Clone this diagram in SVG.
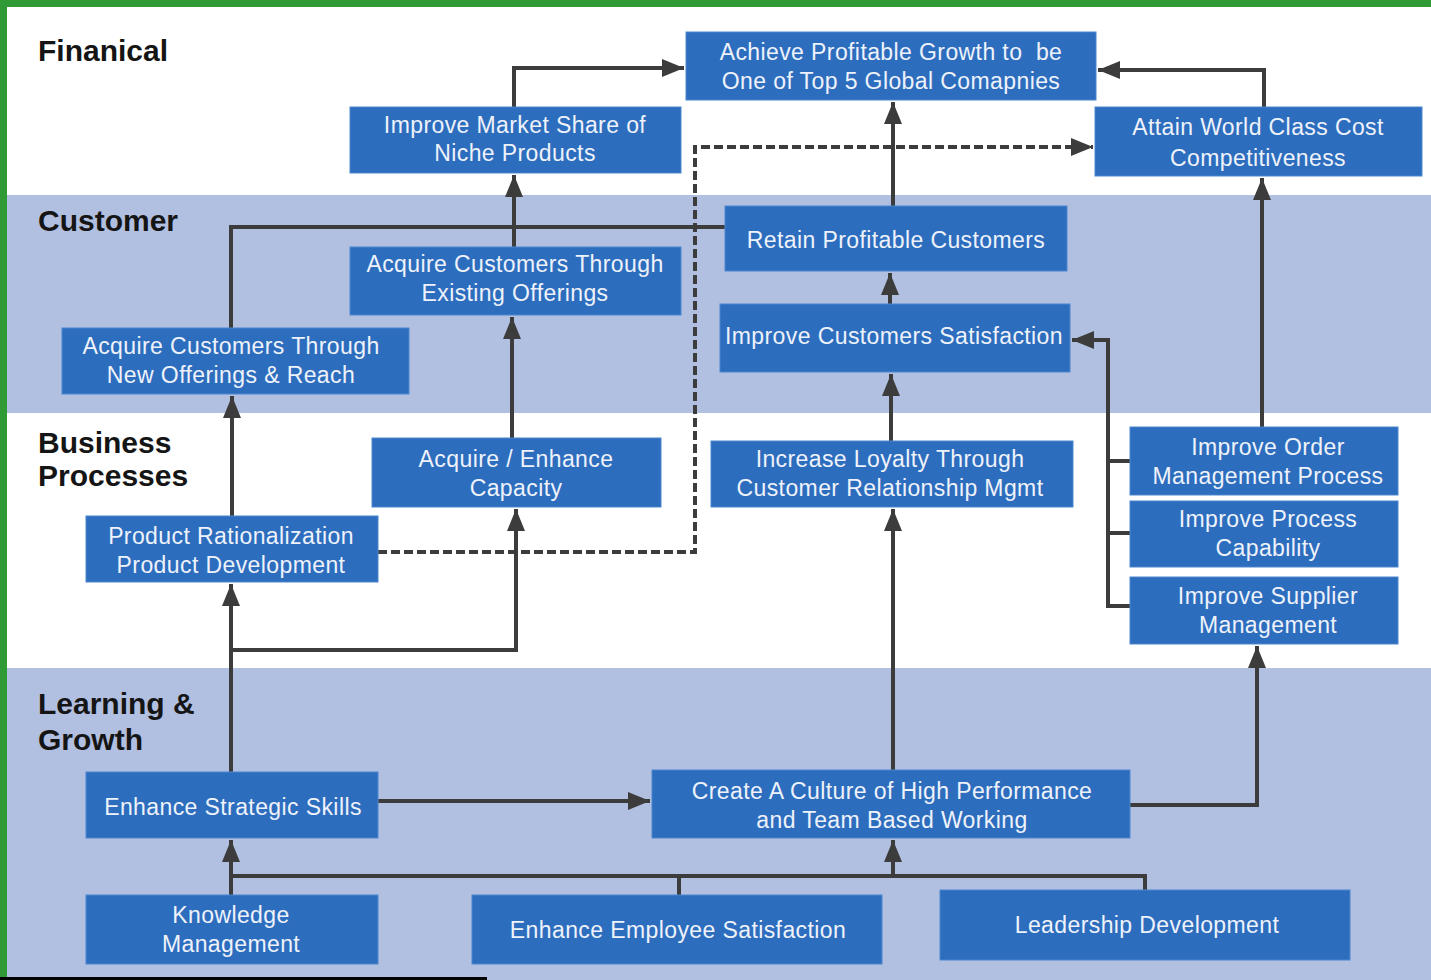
<svg xmlns="http://www.w3.org/2000/svg" width="1431" height="980" viewBox="0 0 1431 980">
<defs>
<marker id="ah" viewBox="0 0 10 10" refX="10" refY="5" markerWidth="5.5" markerHeight="4.5" markerUnits="strokeWidth" orient="auto" preserveAspectRatio="none">
<path d="M0,0 L10,5 L0,10 z" fill="#3c3c3c"/>
</marker>
<style>
.box{fill:#2d6dbe;stroke:#4d88cf;stroke-width:1}
.t{font-family:"Liberation Sans",Arial,sans-serif;font-size:23px;fill:#eef2fa;text-anchor:middle;letter-spacing:0.4px;white-space:pre}
.lab{font-family:"Liberation Sans",Arial,sans-serif;font-size:30px;font-weight:bold;fill:#151515}
.c{fill:none;stroke:#3c3c3c;stroke-width:4}
.a{marker-end:url(#ah)}
.d{stroke-dasharray:9 4}
</style>
</defs>
<rect x="0" y="0" width="1431" height="980" fill="#ffffff"/>
<rect x="7" y="195" width="1424" height="218" fill="#b1bfe1"/>
<rect x="7" y="668" width="1424" height="312" fill="#b1bfe1"/>
<rect x="0" y="0" width="1431" height="7" fill="#2f9a36"/>
<rect x="0" y="0" width="7" height="980" fill="#2f9a36"/>
<rect x="0" y="977" width="487" height="3" fill="#000000"/>

<g id="labels">
<text class="lab" x="38" y="61">Finanical</text>
<text class="lab" x="38" y="231">Customer</text>
<text class="lab" x="38" y="453">Business</text>
<text class="lab" x="38" y="486">Processes</text>
<text class="lab" x="38" y="714">Learning &amp;</text>
<text class="lab" x="38" y="750">Growth</text>
</g>

<g id="connectors">
<path class="c a" d="M514,107 V68 H684"/>
<path class="c a" d="M1264,107 V70 H1098"/>
<path class="c a" d="M893,206 V102"/>
<path class="c a d" d="M378,552 H695 V147 H1093"/>
<path class="c a" d="M514,247 V175"/>
<path class="c" d="M231,328 V227 H725"/>
<path class="c a" d="M890,304 V273"/>
<path class="c a" d="M891,441 V374"/>
<path class="c a" d="M1130,606 H1108 V340 H1072"/>
<path class="c" d="M1108,461 H1130 M1108,533 H1130"/>
<path class="c a" d="M1262,427 V178"/>
<path class="c a" d="M512,438 V317"/>
<path class="c a" d="M232,516 V396"/>
<path class="c a" d="M231,772 V584"/>
<path class="c a" d="M231,650 H516 V509"/>
<path class="c a" d="M378,801 H650"/>
<path class="c a" d="M893,770 V509"/>
<path class="c a" d="M1130,805 H1257 V646"/>
<path class="c" d="M231,876 H1145 V890 M679,876 V895"/>
<path class="c a" d="M231,895 V840"/>
<path class="c a" d="M893,876 V840"/>
</g>

<g id="n1"><rect class="box" x="686" y="32" width="410" height="68"/><text class="t" x="891" y="60" xml:space="preserve">Achieve Profitable Growth to  be</text><text class="t" x="891" y="89">One of Top 5 Global Comapnies</text></g>
<g id="n2"><rect class="box" x="350" y="107" width="331" height="66"/><text class="t" x="515" y="133">Improve Market Share of</text><text class="t" x="515" y="161">Niche Products</text></g>
<g id="n3"><rect class="box" x="1095" y="107" width="327" height="69"/><text class="t" x="1258" y="135">Attain World Class Cost</text><text class="t" x="1258" y="166">Competitiveness</text></g>
<g id="n4"><rect class="box" x="725" y="206" width="342" height="65"/><text class="t" x="896" y="248">Retain Profitable Customers</text></g>
<g id="n5"><rect class="box" x="350" y="247" width="331" height="68"/><text class="t" x="515" y="272">Acquire Customers Through</text><text class="t" x="515" y="301">Existing Offerings</text></g>
<g id="n6"><rect class="box" x="720" y="304" width="350" height="68"/><text class="t" x="894" y="344">Improve Customers Satisfaction</text></g>
<g id="n7"><rect class="box" x="62" y="328" width="347" height="66"/><text class="t" x="231" y="354">Acquire Customers Through</text><text class="t" x="231" y="383">New Offerings &amp; Reach</text></g>
<g id="n8"><rect class="box" x="372" y="438" width="289" height="69"/><text class="t" x="516" y="467">Acquire / Enhance</text><text class="t" x="516" y="496">Capacity</text></g>
<g id="n9"><rect class="box" x="711" y="441" width="362" height="66"/><text class="t" x="890" y="467">Increase Loyalty Through</text><text class="t" x="890" y="496">Customer Relationship Mgmt</text></g>
<g id="n10"><rect class="box" x="1130" y="427" width="268" height="68"/><text class="t" x="1268" y="455">Improve Order</text><text class="t" x="1268" y="484">Management Process</text></g>
<g id="n11"><rect class="box" x="1130" y="501" width="268" height="66"/><text class="t" x="1268" y="527">Improve Process</text><text class="t" x="1268" y="556">Capability</text></g>
<g id="n12"><rect class="box" x="1130" y="577" width="268" height="67"/><text class="t" x="1268" y="604">Improve Supplier</text><text class="t" x="1268" y="633">Management</text></g>
<g id="n13"><rect class="box" x="86" y="516" width="292" height="66"/><text class="t" x="231" y="544">Product Rationalization</text><text class="t" x="231" y="573">Product Development</text></g>
<g id="n14"><rect class="box" x="86" y="772" width="292" height="66"/><text class="t" x="233" y="815">Enhance Strategic Skills</text></g>
<g id="n15"><rect class="box" x="652" y="770" width="478" height="68"/><text class="t" x="892" y="799">Create A Culture of High Performance</text><text class="t" x="892" y="828">and Team Based Working</text></g>
<g id="n16"><rect class="box" x="86" y="895" width="292" height="69"/><text class="t" x="231" y="923">Knowledge</text><text class="t" x="231" y="952">Management</text></g>
<g id="n17"><rect class="box" x="472" y="895" width="410" height="69"/><text class="t" x="678" y="938">Enhance Employee Satisfaction</text></g>
<g id="n18"><rect class="box" x="940" y="890" width="410" height="70"/><text class="t" x="1147" y="933">Leadership Development</text></g>
</svg>
